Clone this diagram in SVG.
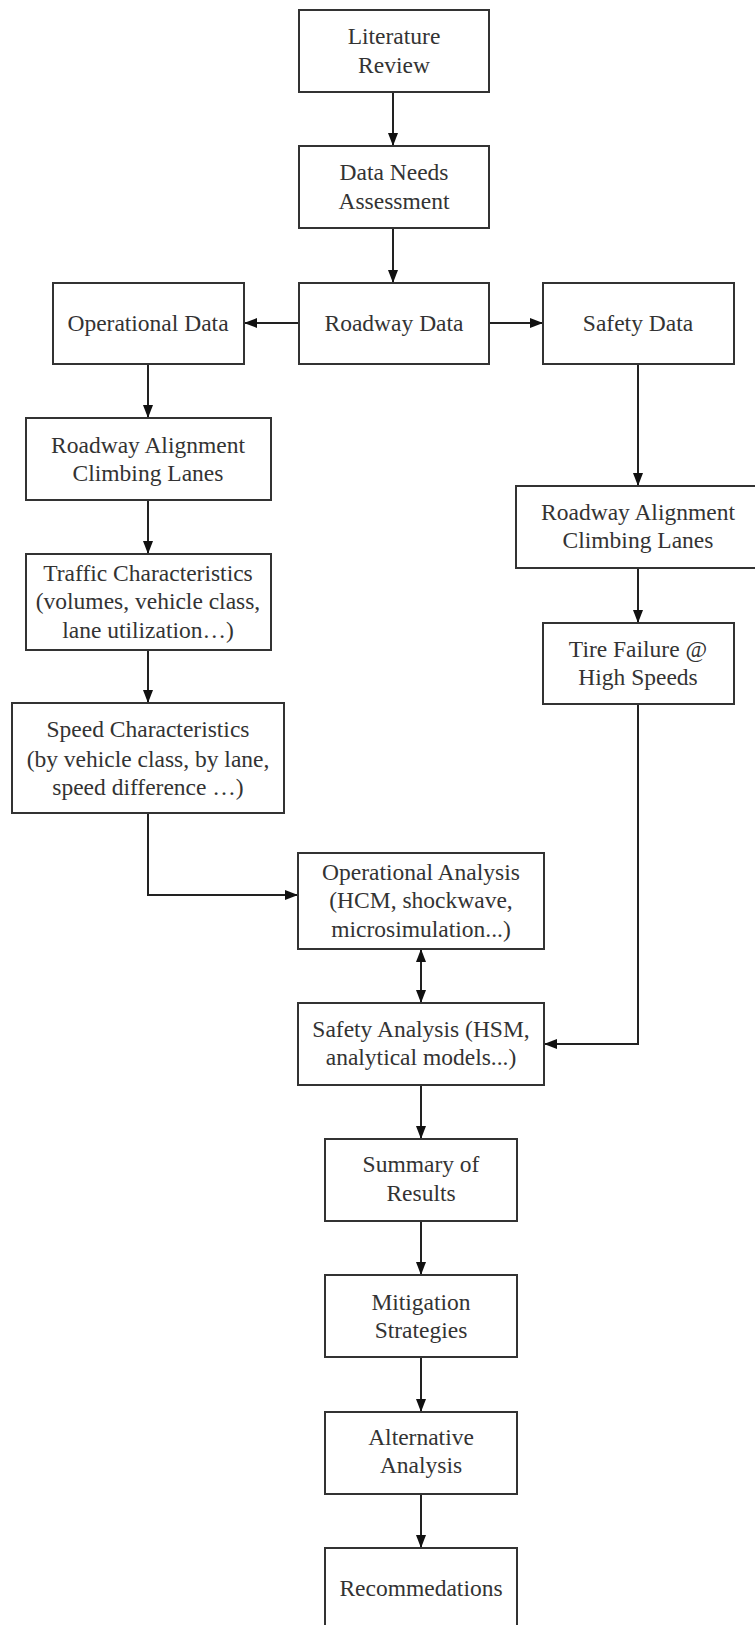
<svg xmlns="http://www.w3.org/2000/svg" width="755" height="1625" viewBox="0 0 755 1625">
<style>
.box{fill:#fff;stroke:#333;stroke-width:2}
.t{font-family:"Liberation Serif","Times New Roman",serif;font-size:23.5px;fill:#333;text-anchor:middle}
.c{fill:none;stroke:#222;stroke-width:2}
</style>
<defs>
<marker id="ah" viewBox="0 0 13 10" refX="13" refY="5" markerWidth="13" markerHeight="10" markerUnits="userSpaceOnUse" orient="auto-start-reverse">
<path d="M0,0 L13,5 L0,10 Z" fill="#111"/>
</marker>
</defs>
<rect width="755" height="1625" fill="#fff"/>
<g id="connectors">
<line class="c" x1="393" y1="92" x2="393" y2="146" marker-end="url(#ah)"/>
<line class="c" x1="393" y1="228" x2="393" y2="283" marker-end="url(#ah)"/>
<line class="c" x1="299" y1="323" x2="244" y2="323" marker-end="url(#ah)"/>
<line class="c" x1="489" y1="323" x2="543" y2="323" marker-end="url(#ah)"/>
<line class="c" x1="148" y1="364" x2="148" y2="418" marker-end="url(#ah)"/>
<line class="c" x1="148" y1="500" x2="148" y2="554" marker-end="url(#ah)"/>
<line class="c" x1="148" y1="650" x2="148" y2="703" marker-end="url(#ah)"/>
<polyline class="c" points="148,813 148,895 298,895" marker-end="url(#ah)"/>
<line class="c" x1="638" y1="364" x2="638" y2="486" marker-end="url(#ah)"/>
<line class="c" x1="638" y1="568" x2="638" y2="623" marker-end="url(#ah)"/>
<polyline class="c" points="638,704 638,1044 544,1044" marker-end="url(#ah)"/>
<line class="c" x1="421" y1="949" x2="421" y2="1003" marker-start="url(#ah)" marker-end="url(#ah)"/>
<line class="c" x1="421" y1="1085" x2="421" y2="1139" marker-end="url(#ah)"/>
<line class="c" x1="421" y1="1221" x2="421" y2="1275" marker-end="url(#ah)"/>
<line class="c" x1="421" y1="1357" x2="421" y2="1412" marker-end="url(#ah)"/>
<line class="c" x1="421" y1="1494" x2="421" y2="1548" marker-end="url(#ah)"/>
</g>
<g id="literature-review">
<rect class="box" x="299" y="10" width="190" height="82"/>
<text class="t" x="394" y="44">Literature</text>
<text class="t" x="394" y="73">Review</text>
</g>
<g id="data-needs">
<rect class="box" x="299" y="146" width="190" height="82"/>
<text class="t" x="394" y="180">Data Needs</text>
<text class="t" x="394" y="209">Assessment</text>
</g>
<g id="operational-data">
<rect class="box" x="53" y="283" width="191" height="81"/>
<text class="t" x="148" y="331">Operational Data</text>
</g>
<g id="roadway-data">
<rect class="box" x="299" y="283" width="190" height="81"/>
<text class="t" x="394" y="331">Roadway Data</text>
</g>
<g id="safety-data">
<rect class="box" x="543" y="283" width="191" height="81"/>
<text class="t" x="638" y="331">Safety Data</text>
</g>
<g id="roadway-alignment-left">
<rect class="box" x="26" y="418" width="245" height="82"/>
<text class="t" x="148" y="453">Roadway Alignment</text>
<text class="t" x="148" y="481">Climbing Lanes</text>
</g>
<g id="traffic-characteristics">
<rect class="box" x="26" y="554" width="245" height="96"/>
<text class="t" x="148" y="581">Traffic Characteristics</text>
<text class="t" x="148" y="609">(volumes, vehicle class,</text>
<text class="t" x="148" y="638">lane utilization…)</text>
</g>
<g id="speed-characteristics">
<rect class="box" x="12" y="703" width="272" height="110"/>
<text class="t" x="148" y="737">Speed Characteristics</text>
<text class="t" x="148" y="767">(by vehicle class, by lane,</text>
<text class="t" x="148" y="795">speed difference …)</text>
</g>
<g id="roadway-alignment-right">
<rect class="box" x="516" y="486" width="246" height="82"/>
<text class="t" x="638" y="520">Roadway Alignment</text>
<text class="t" x="638" y="548">Climbing Lanes</text>
</g>
<g id="tire-failure">
<rect class="box" x="543" y="623" width="191" height="81"/>
<text class="t" x="638" y="657">Tire Failure @</text>
<text class="t" x="638" y="685">High Speeds</text>
</g>
<g id="operational-analysis">
<rect class="box" x="298" y="853" width="246" height="96"/>
<text class="t" x="421" y="880">Operational Analysis</text>
<text class="t" x="421" y="908">(HCM, shockwave,</text>
<text class="t" x="421" y="937">microsimulation...)</text>
</g>
<g id="safety-analysis">
<rect class="box" x="298" y="1003" width="246" height="82"/>
<text class="t" x="421" y="1037">Safety Analysis (HSM,</text>
<text class="t" x="421" y="1065">analytical models...)</text>
</g>
<g id="summary">
<rect class="box" x="325" y="1139" width="192" height="82"/>
<text class="t" x="421" y="1172">Summary of</text>
<text class="t" x="421" y="1201">Results</text>
</g>
<g id="mitigation">
<rect class="box" x="325" y="1275" width="192" height="82"/>
<text class="t" x="421" y="1310">Mitigation</text>
<text class="t" x="421" y="1338">Strategies</text>
</g>
<g id="alternative">
<rect class="box" x="325" y="1412" width="192" height="82"/>
<text class="t" x="421" y="1445">Alternative</text>
<text class="t" x="421" y="1473">Analysis</text>
</g>
<g id="recommendations">
<rect class="box" x="325" y="1548" width="192" height="84"/>
<text class="t" x="421" y="1596">Recommedations</text>
</g>
</svg>
